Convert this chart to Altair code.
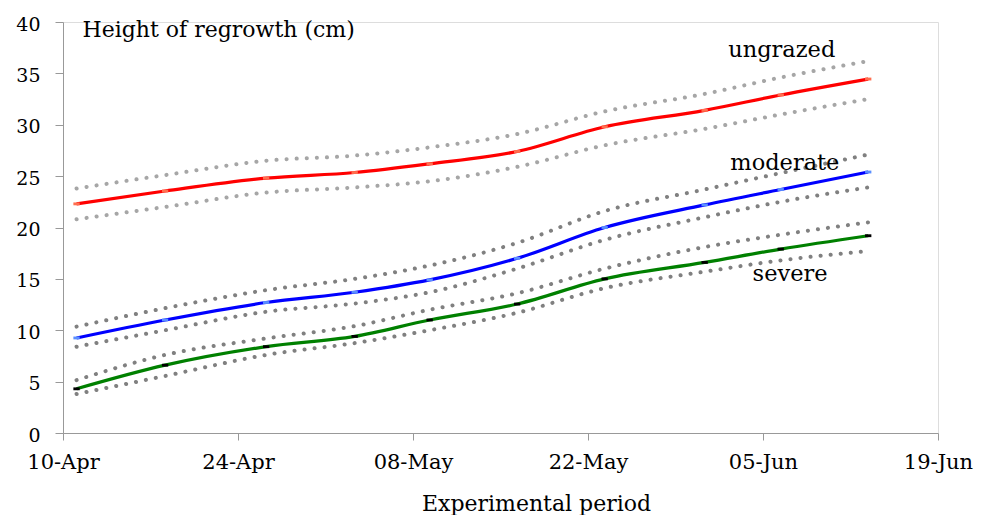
import altair as alt
import pandas as pd

dates = ["2013-04-11T02:00:00", "2013-04-18T04:00:00", "2013-04-26T06:00:00", "2013-05-03T08:00:00",
         "2013-05-09T08:00:00", "2013-05-16T08:00:00", "2013-05-23T08:00:00", "2013-05-31T08:00:00",
         "2013-06-06T10:00:00", "2013-06-13T10:00:00"]

ungrazed = [22.3, 23.55, 24.8, 25.35, 26.2, 27.4, 29.8, 31.4, 32.9, 34.45]
ungrazed_up = [23.8, 25.1, 26.5, 27.0, 27.8, 29.1, 31.3, 33.0, 34.6, 36.2]
ungrazed_lo = [20.8, 22.0, 23.4, 23.9, 24.5, 25.9, 28.0, 29.6, 31.0, 32.5]

moderate = [9.25, 11.0, 12.7, 13.7, 14.9, 17.0, 20.0, 22.2, 23.7, 25.4]
moderate_up = [10.35, 12.15, 13.9, 15.0, 16.3, 18.5, 21.6, 23.7, 25.3, 27.1]
moderate_lo = [8.4, 10.0, 11.8, 12.6, 13.7, 16.0, 18.8, 21.0, 22.5, 23.9]

severe = [4.3, 6.6, 8.4, 9.4, 11.0, 12.55, 15.0, 16.6, 17.9, 19.2]
severe_up = [5.15, 7.6, 9.2, 10.4, 12.0, 13.6, 16.0, 18.1, 19.3, 20.5]
severe_lo = [3.8, 5.55, 7.6, 8.75, 10.0, 11.7, 14.1, 15.7, 16.8, 17.7]

series_names = ["ungrazed", "moderate", "severe"]
line_colors = ["#ff0000", "#0000ff", "#008000"]
band_colors = ["#a6a6a6", "#808080", "#808080"]
marker_colors = ["#ff6f50", "#5b8fff", "#000000"]

label_dates = ["2013-06-06T12:00:00", "2013-06-06T18:00:00", "2013-06-07T04:00:00"]
label_values = [37.3, 26.3, 15.45]

x_ticks = ["2013-04-10", "2013-04-24", "2013-05-08", "2013-05-22", "2013-06-05", "2013-06-19"]

rows = []
for name, v, up, lo in [("ungrazed", ungrazed, ungrazed_up, ungrazed_lo),
                        ("moderate", moderate, moderate_up, moderate_lo),
                        ("severe", severe, severe_up, severe_lo)]:
    for d, a, b, c in zip(dates, v, up, lo):
        rows.append({"series": name, "date": d, "value": a, "upper": b, "lower": c})
df = pd.DataFrame(rows)
labels_df = pd.DataFrame({"series": series_names, "date": label_dates, "value": label_values})

FONT = "DejaVu Serif"

x_enc = alt.X("date:T",
              scale=alt.Scale(domain=[{"year": 2013, "month": 4, "date": 10},
                                      {"year": 2013, "month": 6, "date": 19}]),
              axis=alt.Axis(values=[alt.DateTime(year=2013, month=int(s[5:7]), date=int(s[8:10])) for s in x_ticks],
                            format="%d-%b", title="Experimental period", grid=False,
                            domainColor="#999999", tickColor="#999999", tickSize=7,
                            labelFont=FONT, labelFontSize=21, labelColor="#000000", labelFlush=False,
                            labelPadding=11, titleFont=FONT, titleFontSize=22,
                            titleFontWeight="normal", titleColor="#000000", titlePadding=21,
                            titleX=473, titleAlign="center"))

y_axis = alt.Axis(values=list(range(0, 45, 5)), grid=False, title="Height of regrowth (cm)",
                  domainColor="#999999", tickColor="#999999", tickSize=8,
                  labelFont=FONT, labelFontSize=19, labelColor="#000000", labelPadding=15,
                  labelOffset=2, labelFlush=False,
                  titleFont=FONT, titleFontSize=22, titleFontWeight="normal", titleColor="#000000",
                  titleAngle=0, titleAlign="left", titleBaseline="middle", titleX=19, titleY=7)

y_scale = alt.Scale(domain=[0, 40], nice=False)

band_color = alt.Color("series:N", scale=alt.Scale(domain=series_names, range=band_colors), legend=None)

upper = alt.Chart(df).mark_line(strokeDash=[0.1, 10], strokeCap="round", strokeWidth=4,
                                interpolate="monotone").encode(
    x=x_enc, y=alt.Y("upper:Q", scale=y_scale, axis=y_axis), color=band_color, detail="series:N")
lower = alt.Chart(df).mark_line(strokeDash=[0.1, 10], strokeCap="round", strokeWidth=4,
                                interpolate="monotone").encode(
    x="date:T", y="lower:Q", color=band_color, detail="series:N")

lines = alt.Chart(df).mark_line(strokeWidth=3.2, interpolate="monotone").encode(
    x="date:T", y="value:Q",
    color=alt.Color("series:N", scale=alt.Scale(domain=series_names, range=line_colors), legend=None))

markers = alt.Chart(df).mark_point(shape="M-1,-0.45L1,-0.45L1,0.45L-1,0.45Z", filled=True,
                                   size=40, opacity=1).encode(
    x="date:T", y="value:Q",
    color=alt.Color("series:N", scale=alt.Scale(domain=series_names, range=marker_colors), legend=None))

texts = alt.Chart(labels_df).mark_text(font=FONT, fontSize=22.5, color="#000000").encode(
    x="date:T", y="value:Q", text="series:N")

chart = alt.layer(upper, lower, lines, markers, texts).resolve_scale(color="independent").properties(
    width=875, height=411,
    padding={"left": 55, "top": 14, "right": 43, "bottom": 82},
    autosize=alt.AutoSizeParams(type="none"),
).configure_view(stroke=None).configure(background="#ffffff")

chart.save("out.html", embed_options={"renderer": "svg", "actions": False})
